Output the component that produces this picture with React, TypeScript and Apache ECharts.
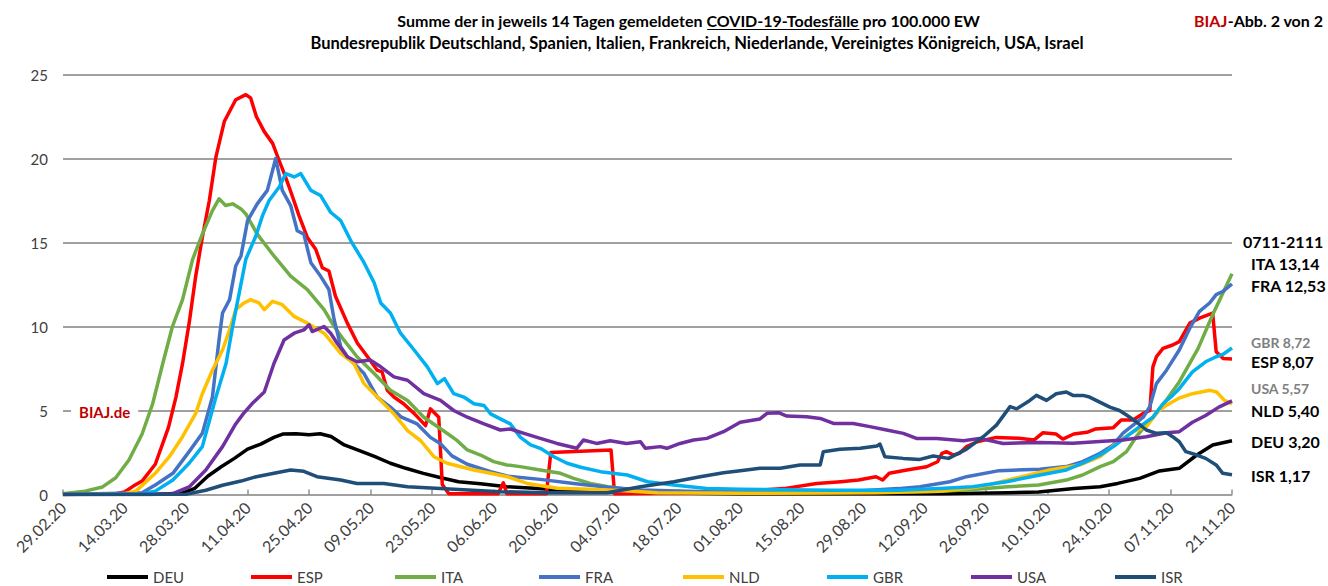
import React, { useEffect, useRef } from "react";
import * as echarts from "echarts";

// x values: days since 29.02.20 ; y values: deaths per 100.000 inhabitants in 14 days
const TICK_LABELS = [
  "29.02.20", "14.03.20", "28.03.20", "11.04.20", "25.04.20", "09.05.20", "23.05.20",
  "06.06.20", "20.06.20", "04.07.20", "18.07.20", "01.08.20", "15.08.20", "29.08.20",
  "12.09.20", "26.09.20", "10.10.20", "24.10.20", "07.11.20", "21.11.20",
];
const SERIES_NAMES = ["DEU", "ESP", "ITA", "FRA", "NLD", "GBR", "USA", "ISR"];
const COLORS = ["#000000", "#FF0000", "#70AD47", "#4472C4", "#FFC000", "#00B0F0", "#7030A0", "#1F4E79"];

const DEU = [[0,0],[20,0],[27,0.07],[30,0.37],[33,1.1],[36,1.65],[39,2.15],[42,2.7],[45,3.0],[48,3.4],[50,3.6],[53,3.62],[56,3.55],[58.5,3.62],[61,3.45],[64,2.95],[67,2.65],[71,2.25],[74.5,1.86],[78,1.56],[82,1.26],[86,1.0],[90,0.76],[95,0.64],[101,0.46],[108,0.36],[116,0.23],[124,0.17],[131,0.11],[154,0.05],[200,0.05],[215,0.1],[222,0.15],[230,0.36],[236,0.46],[240,0.66],[245,0.96],[249.5,1.4],[254,1.56],[258,2.35],[261.6,2.95],[266,3.2]];
const ESP = [[0,0],[12,0.05],[14,0.15],[16,0.5],[18,0.8],[21,1.8],[24,4.0],[25.7,5.8],[27.2,7.8],[28.7,10.2],[30.2,13.0],[31.7,15.3],[33.3,17.5],[34.8,20.1],[36.7,22.2],[39.3,23.5],[41.6,23.8],[42.7,23.6],[44,22.5],[45.8,21.6],[47.7,20.9],[49,20.0],[50.5,19.0],[52,17.9],[53.7,16.6],[55.6,15.3],[57.5,14.6],[59,13.5],[60.5,13.3],[62,11.8],[64.7,10.2],[67,9.0],[69.3,8.2],[71.5,7.4],[72.6,7.3],[73.8,6.2],[75.3,5.8],[77.5,5.4],[80,4.8],[82.5,4.1],[83.6,5.1],[85.5,4.6],[86.3,0.6],[87.8,0.05],[99,0.05],[100.2,0.7],[101,0.05],[110,0.05],[111,2.5],[124.7,2.65],[125.5,0.05],[145,0.1],[155,0.2],[164,0.35],[171.5,0.65],[177,0.76],[181,0.86],[185,1.06],[186.5,0.86],[188,1.26],[192,1.46],[196.5,1.65],[199,1.95],[200,2.45],[201,2.55],[202.6,2.35],[204,2.45],[205.6,2.85],[208,3.14],[212.4,3.4],[217.5,3.35],[221,3.25],[223,3.68],[226,3.6],[227.5,3.3],[230,3.6],[233,3.7],[235,3.9],[239,3.98],[240.8,4.43],[243.5,4.43],[245.8,4.83],[247.3,5.0],[248,7.6],[248.8,8.2],[250.3,8.7],[252.5,8.9],[254,9.1],[256.4,10.2],[258.6,10.5],[261.6,10.8],[262.4,8.5],[264,8.1],[266,8.07]];
const ITA = [[0,0.05],[5,0.2],[9,0.45],[12,1.0],[15,2.05],[18,3.6],[20.4,5.4],[22.7,7.8],[24.9,10.0],[27.2,11.6],[29.5,14.0],[31.7,15.5],[34,16.9],[35.5,17.6],[37,17.2],[38.6,17.3],[40.5,17.0],[41.6,16.7],[44.2,15.5],[48,14.2],[51.8,13.0],[55.6,12.2],[59.4,11.0],[61.7,10.0],[63.9,9.2],[66.9,8.2],[70.8,7.2],[74.5,6.2],[78.4,5.6],[82.1,4.6],[86,3.9],[89.5,3.25],[92,2.65],[95,2.35],[98,1.96],[101,1.76],[104,1.66],[108.6,1.46],[113.2,1.26],[116.2,0.96],[120,0.66],[124,0.46],[128.4,0.31],[135,0.17],[154,0.08],[175,0.12],[190,0.15],[200,0.2],[207,0.3],[215,0.46],[222,0.56],[228.3,0.86],[232,1.16],[236,1.66],[239,1.96],[242,2.55],[244.5,3.54],[248,4.6],[251,5.6],[254,6.7],[258.3,8.7],[261.6,10.7],[266,13.14]];
const FRA = [[0,0],[18,0.1],[21,0.57],[25,1.26],[28.7,2.55],[31.7,3.64],[34,5.8],[35.5,9.2],[36.3,10.8],[37.9,11.6],[39.3,13.6],[40.5,14.2],[42,16.3],[44.2,17.3],[46.5,18.1],[48.4,20.0],[49.9,18.1],[51.8,17.2],[53.3,15.7],[54.8,15.5],[56.4,13.8],[58.6,13.0],[60.5,12.2],[61.7,10.4],[63.2,8.8],[64.7,8.2],[68.5,7.2],[71.5,5.8],[74.5,5.2],[77,4.6],[80.6,4.2],[83.6,3.4],[86,3.0],[88.5,2.3],[92,1.8],[97.3,1.36],[101,1.1],[108.6,0.9],[116.2,0.66],[124,0.43],[131.4,0.27],[146.5,0.17],[160,0.12],[180,0.2],[190,0.35],[195,0.46],[201.8,0.76],[205.6,1.06],[213,1.42],[222.3,1.5],[228.3,1.66],[232,1.96],[236,2.45],[239,2.95],[241.2,3.65],[243.5,4.13],[245.8,4.6],[247.3,5.23],[248.8,6.6],[251.1,7.4],[254,8.6],[256.4,9.9],[258.6,10.9],[260.9,11.4],[262.4,11.9],[264,12.1],[266,12.53]];
const NLD = [[0,0],[14,0.05],[16.6,0.2],[21,1.26],[24.2,2.25],[27.2,3.44],[30.2,4.83],[31.7,6.0],[34,7.4],[36.3,8.6],[37.9,9.8],[39.3,11.0],[41.2,11.4],[42.7,11.6],[44.6,11.4],[45.8,11.0],[47.7,11.5],[49.9,11.3],[52.6,10.6],[55.6,10.2],[59.4,9.6],[63.2,8.4],[66.2,7.8],[68.5,6.6],[72.3,5.6],[75.3,4.8],[78.4,3.8],[81.4,3.2],[84.4,2.25],[87.4,1.86],[93.5,1.46],[97.3,1.26],[101.1,1.06],[105.6,0.66],[112.5,0.37],[120,0.31],[127.7,0.23],[135.2,0.11],[154,0.07],[185,0.1],[199.5,0.2],[207,0.4],[211,0.6],[218,1.05],[224.5,1.46],[231.4,1.76],[236,2.25],[239.7,3.05],[243.5,3.74],[246.5,4.04],[249.5,5.03],[251,5.3],[254,5.74],[257,6.0],[261,6.2],[262.5,6.1],[264.3,5.6],[266,5.4]];
const GBR = [[0,0],[18,0.05],[21,0.2],[25,0.86],[28.7,1.86],[31.7,2.85],[34.8,5.8],[37.1,7.8],[38.6,10.0],[40.1,12.0],[41.6,14.0],[43.9,15.4],[45.4,16.6],[46.9,17.5],[49.2,18.3],[50.7,19.1],[52.6,18.9],[54.1,19.1],[56.4,18.1],[58.6,17.8],[60.9,16.8],[63.2,16.3],[65.5,15.1],[68.5,13.8],[70.8,12.6],[72.3,11.4],[74.5,10.8],[76.8,9.6],[79.9,8.6],[82.9,7.6],[85.2,6.6],[86.8,6.9],[88.9,6.0],[91.2,5.8],[93.5,5.4],[95.8,5.3],[97.3,4.8],[99.5,4.5],[101.8,4.2],[104.1,3.4],[106.4,2.95],[108.6,2.75],[111.7,2.25],[114.7,1.86],[117.8,1.62],[122.3,1.36],[128.4,1.16],[133,0.76],[139,0.56],[146.5,0.36],[154,0.31],[175,0.25],[190,0.25],[199.5,0.36],[207,0.46],[214.7,0.76],[222.3,1.16],[228.3,1.46],[232,1.86],[236,2.35],[239,2.85],[242,3.44],[245,4.04],[248,4.6],[250.3,5.4],[252.5,5.9],[254,6.3],[257,7.3],[260,7.9],[262.4,8.2],[264,8.35],[266,8.72]];
const USA = [[0,0],[22,0.02],[25,0.05],[28.7,0.45],[32.5,1.46],[36.3,2.85],[39.3,4.2],[41,4.8],[43,5.4],[45.8,6.1],[48,7.8],[50.3,9.2],[52.6,9.6],[54.8,9.8],[56,10.1],[56.7,9.7],[59.4,10.0],[60.9,9.6],[62.4,9.0],[64.7,8.2],[66.9,7.9],[69.9,8.0],[72.3,7.6],[75.3,7.0],[78.4,6.8],[82.1,6.0],[85.9,5.6],[88.9,5.0],[92,4.6],[95.8,4.2],[99.5,3.84],[101.8,3.9],[104.9,3.64],[108.6,3.34],[112.4,3.04],[116.9,2.75],[118.4,3.24],[121.4,3.04],[124.5,3.2],[128.2,3.04],[131.4,3.14],[132.5,2.75],[135.9,2.85],[137.4,2.75],[140.4,3.04],[143.5,3.24],[146.5,3.34],[150.3,3.74],[154.1,4.3],[158.6,4.5],[160.2,4.83],[162.8,4.87],[164.7,4.67],[169.2,4.63],[172.3,4.53],[175.3,4.23],[179.8,4.23],[183.6,4.04],[187.4,3.84],[191.2,3.64],[194.2,3.34],[198.8,3.34],[204.9,3.2],[208.6,3.34],[213.9,3.04],[222.3,3.1],[229.8,3.05],[235.9,3.15],[241.2,3.25],[246.5,3.44],[251.1,3.68],[254,3.74],[257,4.3],[260,4.7],[263,5.2],[266,5.57]];
const ISR = [[0,0],[28,0.02],[32.5,0.25],[36.3,0.55],[40.5,0.8],[44,1.06],[48,1.26],[51.8,1.46],[54.8,1.38],[57.8,1.06],[63.2,0.86],[66.9,0.66],[73,0.66],[78.4,0.46],[85.9,0.36],[99.5,0.17],[110,0.1],[123.8,0.1],[131.4,0.46],[139,0.76],[145,1.06],[150.3,1.3],[154.1,1.42],[158.6,1.56],[163.2,1.56],[167.7,1.76],[172.3,1.76],[173,2.55],[176.8,2.69],[181.4,2.75],[185.2,2.89],[185.9,3.0],[187,2.25],[191.2,2.15],[195,2.09],[198,2.29],[201.5,2.15],[205.6,2.7],[209.4,3.44],[212.4,4.13],[215.5,5.23],[217,5.1],[220,5.6],[221.5,5.9],[223.8,5.6],[226,6.0],[228.3,6.1],[229.8,5.9],[232.1,5.9],[233.6,5.8],[235.9,5.5],[238.2,5.2],[240.4,5.0],[242,4.73],[244.2,4.33],[246.5,3.84],[248.8,3.64],[251.1,3.68],[252.5,3.44],[254,3.14],[255.5,2.55],[258,2.35],[260,2.15],[262.4,1.76],[263.9,1.26],[266,1.17]];
const SERIES_DATA = [DEU, ESP, ITA, FRA, NLD, GBR, USA, ISR];

const END_HEADER = "0711-2111";
const END_LABELS = ["ITA 13,14", "FRA 12,53", "GBR 8,72", "ESP 8,07", "USA 5,57", "NLD 5,40", "DEU 3,20", "ISR 1,17"];
const END_LABEL_Y = [263, 285, 342, 361, 388, 410, 441, 475];
const END_LABEL_GRAY = [false, false, true, false, true, false, false, false];

const TITLE_1A = "Summe der in jeweils 14 Tagen gemeldeten ";
const TITLE_1B = "COVID-19-Todesfälle";
const TITLE_1C = " pro 100.000 EW";
const TITLE_2 = "Bundesrepublik Deutschland, Spanien, Italien, Frankreich, Niederlande, Vereinigtes Königreich, USA, Israel";

const FONT = "Lato, 'Open Sans', sans-serif";

function measure(text: string, font: string): number {
  const ctx = document.createElement("canvas").getContext("2d");
  if (!ctx) return text.length * 8;
  ctx.font = font;
  return ctx.measureText(text).width;
}

export default function App() {
  const ref = useRef<HTMLDivElement>(null);
  useEffect(() => {
    if (!ref.current) return;
    const chart = echarts.init(ref.current, null, { renderer: "svg" });

    const titleFont = "bold 16px Lato";
    const title2Font = "bold 16.5px Lato";
    const wA = measure(TITLE_1A, titleFont);
    const wB = measure(TITLE_1B, titleFont);
    const wC = measure(TITLE_1C, titleFont);
    const t1Center = 689;
    const t1Left = t1Center - (wA + wB + wC) / 2;

    const absText = "-Abb. 2 von 2";
    const wAbb = measure(absText, titleFont);
    const rightX = 1323;

    const graphics: any[] = [
      { type: "text", x: t1Left, y: 20, style: { text: TITLE_1A + TITLE_1B + TITLE_1C, font: titleFont, fill: "#000", textAlign: "left", textVerticalAlign: "middle" } },
      { type: "line", shape: { x1: t1Left + wA, y1: 29.5, x2: t1Left + wA + wB, y2: 29.5 }, style: { stroke: "#000", lineWidth: 1 } },
      { type: "text", x: 697, y: 43, style: { text: TITLE_2, font: title2Font, fill: "#000", textAlign: "center", textVerticalAlign: "middle" } },
      { type: "text", x: rightX, y: 20, style: { text: absText, font: titleFont, fill: "#000", textAlign: "right", textVerticalAlign: "middle" } },
      { type: "text", x: rightX - wAbb, y: 20, style: { text: "BIAJ", font: titleFont, fill: "#C00000", textAlign: "right", textVerticalAlign: "middle" } },
      { type: "text", x: 71, y: 412, z: 10, style: { text: "BIAJ.de", font: "bold 15px Lato", fill: "#C00000", textAlign: "left", textVerticalAlign: "middle", backgroundColor: "#fff", padding: [3, 8, 3, 8] } },
      { type: "text", x: 1243, y: 241, style: { text: END_HEADER, font: "bold 16px Lato", fill: "#000", textAlign: "left", textVerticalAlign: "middle" } },
    ];
    END_LABELS.forEach((t, i) => {
      graphics.push({
        type: "text", x: 1251, y: END_LABEL_Y[i],
        style: { text: t, font: END_LABEL_GRAY[i] ? "bold 14px Lato" : "bold 16px Lato", fill: END_LABEL_GRAY[i] ? "#7F7F7F" : "#000", textAlign: "left", textVerticalAlign: "middle" },
      });
    });

    chart.setOption({
      animation: false,
      textStyle: { fontFamily: FONT },
      grid: { left: 63, right: 96, top: 74.5, bottom: 91.5, containLabel: false },
      legend: {
        data: SERIES_NAMES,
        left: 107,
        top: 569,
        padding: 0,
        icon: "rect",
        itemWidth: 41,
        itemHeight: 4,
        itemGap: 38,
        textStyle: { fontSize: 15, color: "#404040", fontFamily: FONT, width: 60, lineHeight: 16 },
      },
      xAxis: {
        type: "value",
        min: 0,
        max: 266,
        interval: 14,
        axisLine: { show: true, lineStyle: { color: "#A0A0A0", width: 1.5 } },
        axisTick: { show: true, inside: true, length: 5, lineStyle: { color: "#909090", width: 1.5 } },
        splitLine: { show: false },
        axisLabel: {
          rotate: 45,
          margin: 10,
          fontSize: 16,
          color: "#404040",
          fontFamily: FONT,
          formatter: (v: number) => TICK_LABELS[Math.round(v / 14)] ?? "",
        },
      },
      yAxis: {
        type: "value",
        min: 0,
        max: 25,
        interval: 5,
        axisLine: { show: false },
        axisTick: { show: false },
        axisLabel: { fontSize: 15, color: "#404040", margin: 15, fontFamily: FONT },
        splitLine: { show: true, lineStyle: { color: "#808080", width: 1.5 } },
      },
      series: SERIES_NAMES.map((name, i) => ({
        name,
        type: "line",
        data: SERIES_DATA[i],
        showSymbol: false,
        symbol: "none",
        color: COLORS[i],
        lineStyle: { color: COLORS[i], width: 3.5, join: "round" },
        z: 2 + i,
      })),
      graphic: graphics,
    });
    return () => chart.dispose();
  }, []);
  return <div ref={ref} style={{ position: "fixed", left: 0, top: 0, width: 1328, height: 586, background: "#fff" }} />;
}
